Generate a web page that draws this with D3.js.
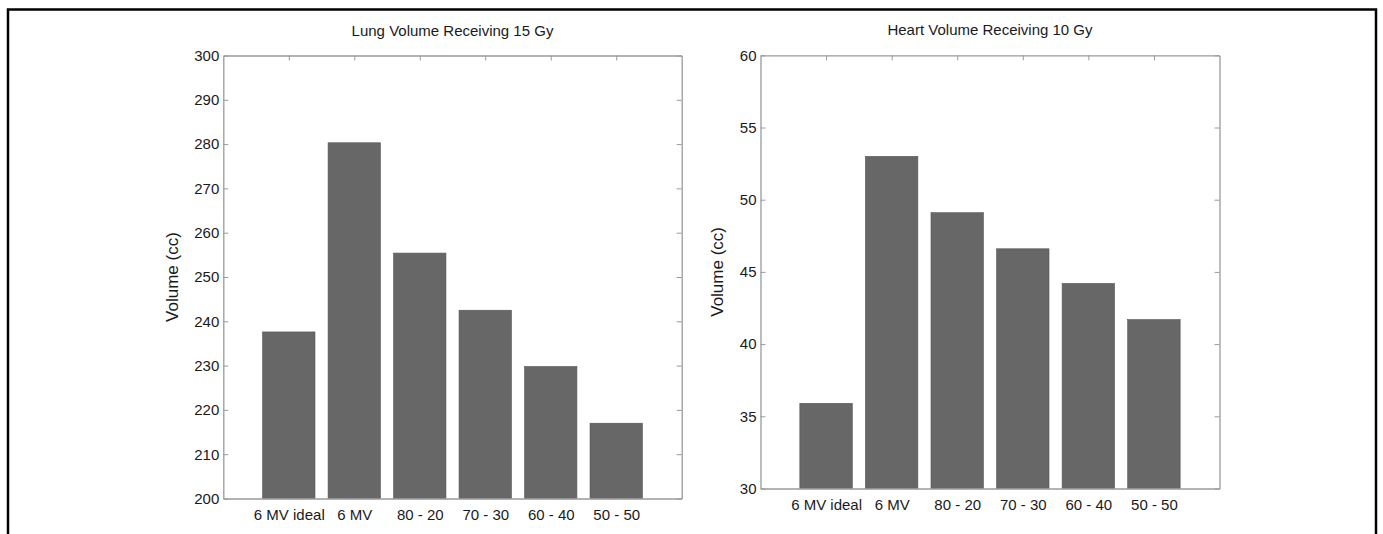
<!DOCTYPE html>
<html>
<head>
<meta charset="utf-8">
<script src="https://cdn.jsdelivr.net/npm/d3@7"></script>
<style>
  html, body { margin: 0; padding: 0; background: #fff; }
  svg { display: block; }
  .tick text { font-family: "Liberation Sans", Arial, sans-serif; font-size: 15px; fill: #1a1a1a; }
  .lbl { font-family: "Liberation Sans", Arial, sans-serif; fill: #1a1a1a; }
</style>
</head>
<body>
<svg id="chart" width="1383" height="534"></svg>
<script>
// Beam configurations compared in both panels
const categories = ["6 MV ideal", "6 MV", "80 - 20", "70 - 30", "60 - 40", "50 - 50"];

// Lung volume receiving 15 Gy (cc)
const lungV15 = [237.6, 280.3, 255.4, 242.5, 229.8, 217.0];
const lungTicks = [200, 210, 220, 230, 240, 250, 260, 270, 280, 290, 300];

// Heart volume receiving 10 Gy (cc)
const heartV10 = [35.9, 53.0, 49.1, 46.6, 44.2, 41.7];
const heartTicks = [30, 35, 40, 45, 50, 55, 60];

const svg = d3.select("#chart");

// Outer frame (open at the bottom)
svg.append("path")
  .attr("d", "M8,534 V9.5 H1376 V534")
  .attr("fill", "none")
  .attr("stroke", "#000")
  .attr("stroke-width", 2.5);

function panel(opt) {
  const { left, right, top, bottom, values, ticks, title, labelX } = opt;
  const g = svg.append("g");
  const x = d3.scaleLinear().domain([0, categories.length + 1]).range([left, right]);
  const y = d3.scaleLinear().domain(d3.extent(ticks)).range([bottom, top]);
  const barW = x(0.8) - x(0);
  const axisColor = "#9a9a9a";

  // bars
  g.selectAll("rect.bar")
    .data(values)
    .join("rect")
    .attr("class", "bar")
    .attr("x", (d, i) => x(i + 1) - barW / 2)
    .attr("width", barW)
    .attr("y", d => y(d))
    .attr("height", d => y(ticks[0]) - y(d))
    .attr("fill", "#676767")
    .attr("stroke", "#555")
    .attr("stroke-width", 0.6);

  const catPos = d3.range(1, categories.length + 1);

  // left axis with value labels, ticks pointing inward
  g.append("g")
    .attr("transform", `translate(${left},0)`)
    .call(d3.axisLeft(y).tickValues(ticks).tickSizeInner(-5).tickSizeOuter(0).tickPadding(4).tickFormat(d3.format("d")));

  // right axis, ticks only
  g.append("g")
    .attr("transform", `translate(${right},0)`)
    .call(d3.axisRight(y).tickValues(ticks).tickSizeInner(-5).tickSizeOuter(0).tickFormat(""));

  // top axis, ticks at category positions
  g.append("g")
    .attr("transform", `translate(0,${top})`)
    .call(d3.axisTop(x).tickValues(catPos).tickSizeInner(-5).tickSizeOuter(0).tickFormat(""));

  // bottom axis with category names
  g.append("g")
    .attr("transform", `translate(0,${bottom})`)
    .call(d3.axisBottom(x).tickValues(catPos).tickSizeInner(0).tickSizeOuter(0).tickPadding(11)
      .tickFormat((d) => categories[d - 1]));

  g.selectAll(".domain").attr("stroke", axisColor).attr("stroke-width", 1.3);
  g.selectAll(".tick line").attr("stroke", axisColor).attr("stroke-width", 1);

  // title
  g.append("text")
    .attr("class", "lbl")
    .attr("x", (left + right) / 2)
    .attr("y", top - 20)
    .attr("text-anchor", "middle")
    .attr("font-size", 15)
    .text(title);

  // y-axis label
  g.append("text")
    .attr("class", "lbl")
    .attr("transform", `translate(${labelX},${(top + bottom) / 2}) rotate(-90)`)
    .attr("text-anchor", "middle")
    .attr("font-size", 17)
    .text("Volume (cc)");
}

panel({
  left: 223.3, right: 681.7, top: 55.5, bottom: 498.5,
  values: lungV15, ticks: lungTicks,
  title: "Lung Volume Receiving 15 Gy", labelX: 178
});

panel({
  left: 760.5, right: 1219.5, top: 55.3, bottom: 488.5,
  values: heartV10, ticks: heartTicks,
  title: "Heart Volume Receiving 10 Gy", labelX: 723
});
</script>
</body>
</html>
